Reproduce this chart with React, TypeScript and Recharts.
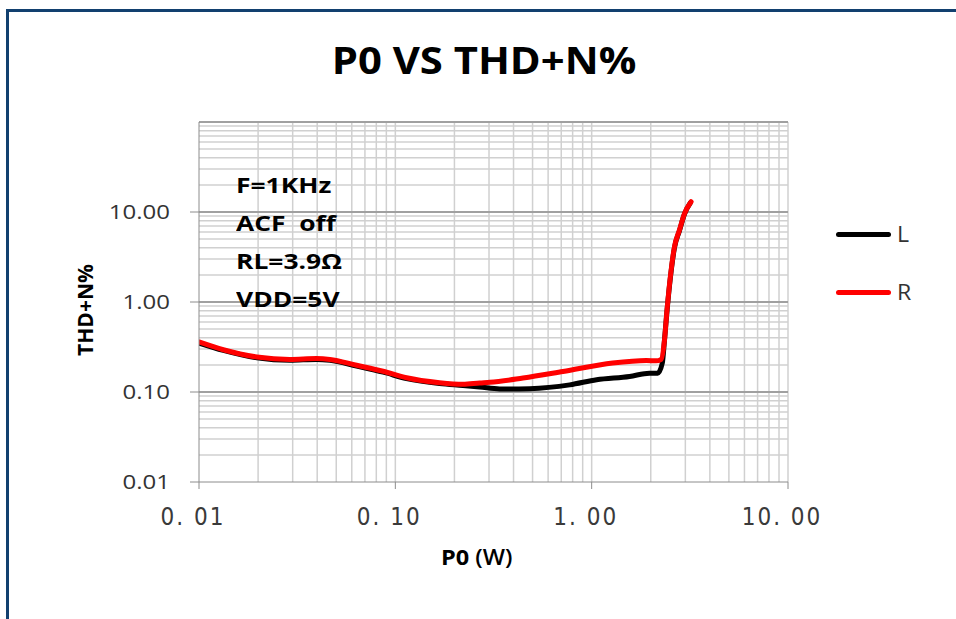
import { LineChart, Line, XAxis, YAxis, ReferenceLine } from "recharts";

// P0 (W) vs THD+N (%) for the two channels
const pL = [0.01, 0.0133, 0.0197, 0.029, 0.0397, 0.0464, 0.0635, 0.0867, 0.114, 0.168, 0.221, 0.269, 0.34, 0.483, 0.773, 1.06, 1.56, 1.97, 2.17, 2.29, 2.35, 2.42, 2.54, 2.64, 2.8, 2.97, 3.18];
const thdL = [0.35, 0.29, 0.24, 0.225, 0.23, 0.225, 0.194, 0.166, 0.141, 0.124, 0.118, 0.1136, 0.108, 0.109, 0.12, 0.137, 0.149, 0.162, 0.162, 0.21, 0.38, 0.8, 2.2, 4.0, 6.2, 9.5, 12.6];

const pR = [0.01, 0.0133, 0.0197, 0.029, 0.0397, 0.0464, 0.0635, 0.0867, 0.114, 0.168, 0.221, 0.269, 0.303, 0.447, 0.714, 1.28, 1.9, 2.13, 2.26, 2.35, 2.42, 2.54, 2.64, 2.8, 2.97, 3.21];
const thdR = [0.36, 0.295, 0.245, 0.23, 0.235, 0.23, 0.198, 0.17, 0.144, 0.127, 0.122, 0.126, 0.128, 0.143, 0.169, 0.21, 0.224, 0.222, 0.231, 0.38, 0.82, 2.27, 4.1, 6.3, 9.6, 13.0];

const seriesNames = ["L", "R"];
const seriesColors = ["#000000", "#ff0000"];

const xTicks = [0.01, 0.1, 1, 10];
const yTicks = [0.01, 0.1, 1, 10];
const yMajor = [0.01, 0.1, 1, 10, 100];
const minorSteps = [2, 3, 4, 5, 6, 7, 8, 9];
const xMinor = [0.01, 0.1, 1].flatMap((d) => minorSteps.map((m) => +(d * m).toPrecision(3)));
const yMinor = [0.01, 0.1, 1, 10].flatMap((d) => minorSteps.map((m) => +(d * m).toPrecision(3)));

const notes = ["F=1KHz", "ACF  off", "RL=3.9\u03A9", "VDD=5V"];

const dataL = pL.map((p, i) => ({ p, thd: thdL[i] }));
const dataR = pR.map((p, i) => ({ p, thd: thdR[i] }));

const AXIS = "#8c8c8c";
const MINOR = "#d0d0d0";
const MAJOR = "#a0a0a0";

function YTick({ x, y, payload }: any) {
  return (
    <text
      transform={`translate(${x},${y}) scale(1.2,1)`}
      textAnchor="end"
      dy="0.36em"
      fontFamily="'Open Sans', sans-serif"
      fontSize={20}
      fill="#333"
    >
      {payload.value.toFixed(2)}
    </text>
  );
}

function XTick({ x, y, payload }: any) {
  return (
    <text
      x={x - 6}
      y={y + 36}
      textAnchor="middle"
      fontFamily="'Liberation Sans Narrow', 'DejaVu Sans Condensed', sans-serif"
      fontSize={24}
      letterSpacing={2}
      fill="#3a3a3a"
    >
      {payload.value.toFixed(2).replace(".", ". ")}
    </text>
  );
}

export default function App() {
  return (
    <div style={{ position: "absolute", left: 0, top: 0, width: 956, height: 619, background: "#fff", overflow: "hidden" }}>
      <div
        style={{
          position: "absolute",
          left: 6,
          top: 9,
          width: 980,
          height: 640,
          borderTop: "3px solid #12406f",
          borderLeft: "3px solid #12406f",
        }}
      />
      <div
        style={{
          position: "absolute",
          left: 484,
          top: 40,
          transform: "translateX(-50%) scaleX(1.1)",
          fontFamily: "'Open Sans', sans-serif",
          fontWeight: 700,
          fontSize: 38,
          lineHeight: "38px",
          whiteSpace: "nowrap",
          color: "#000",
        }}
      >
        P0 VS THD+N%
      </div>

      <LineChart width={956} height={619} margin={{ top: 122, right: 168, bottom: 96, left: 139 }}>
        <XAxis
          type="number"
          dataKey="p"
          scale="log"
          domain={[0.01, 10]}
          ticks={xTicks}
          allowDataOverflow
          height={41}
          tickSize={7}
          tickMargin={0}
          tick={<XTick />}
          stroke={AXIS}
          axisLine={{ stroke: AXIS }}
          tickLine={{ stroke: AXIS }}
        />
        <YAxis
          type="number"
          scale="log"
          domain={[0.01, 100]}
          ticks={yTicks}
          allowDataOverflow
          width={60}
          tickSize={9}
          tickMargin={20}
          tick={<YTick />}
          stroke={AXIS}
          axisLine={{ stroke: AXIS }}
          tickLine={{ stroke: AXIS }}
        />
        {xMinor.map((v) => (
          <ReferenceLine key={"xm" + v} x={v} stroke={MINOR} strokeWidth={1.5} />
        ))}
        {yMinor.map((v) => (
          <ReferenceLine key={"ym" + v} y={v} stroke={MINOR} strokeWidth={1.5} />
        ))}
        {xTicks.slice(1).map((v) => (
          <ReferenceLine key={"xM" + v} x={v} stroke={MINOR} strokeWidth={1.5} />
        ))}
        {yMajor.slice(1).map((v) => (
          <ReferenceLine key={"yM" + v} y={v} stroke={MAJOR} strokeWidth={2} />
        ))}
        <Line
          data={dataL}
          dataKey="thd"
          name={seriesNames[0]}
          type="monotone"
          stroke={seriesColors[0]}
          strokeWidth={5}
          strokeLinecap="round"
          strokeLinejoin="round"
          dot={false}
          activeDot={false}
          isAnimationActive={false}
        />
        <Line
          data={dataR}
          dataKey="thd"
          name={seriesNames[1]}
          type="monotone"
          stroke={seriesColors[1]}
          strokeWidth={5}
          strokeLinecap="round"
          strokeLinejoin="round"
          dot={false}
          activeDot={false}
          isAnimationActive={false}
        />
      </LineChart>

      {/* legend */}
      <div style={{ position: "absolute", left: 836, top: 205 }}>
        {seriesNames.map((name, i) => (
          <div key={name} style={{ display: "flex", alignItems: "center", height: 58 }}>
            <div style={{ width: 55, height: 5, borderRadius: 3, background: seriesColors[i] }} />
            <span
              style={{
                marginLeft: 6,
                fontFamily: "'Open Sans', sans-serif",
                fontSize: 21,
                color: "#333",
                display: "inline-block",
                transform: "scaleX(1.1)",
                transformOrigin: "left center",
              }}
            >
              {name}
            </span>
          </div>
        ))}
      </div>

      <div style={{ position: "absolute", left: 236, top: 165 }}>
        {notes.map((t) => (
          <div
            key={t}
            style={{
              fontFamily: "'Open Sans', sans-serif",
              fontWeight: 700,
              fontSize: 22,
              lineHeight: "38px",
              whiteSpace: "pre",
              transform: "scaleX(1.2)",
              transformOrigin: "left center",
              color: "#000",
            }}
          >
            {t}
          </div>
        ))}
      </div>

      <div
        style={{
          position: "absolute",
          left: 85,
          top: 310,
          transform: "translate(-50%, -50%) rotate(-90deg)",
          fontFamily: "'Open Sans', sans-serif",
          fontWeight: 700,
          fontSize: 21,
          whiteSpace: "nowrap",
          color: "#000",
        }}
      >
        THD+N%
      </div>

      <div
        style={{
          position: "absolute",
          left: 441,
          top: 543,
          transform: "scaleX(1.12)",
          transformOrigin: "left top",
          fontFamily: "'Open Sans', sans-serif",
          fontSize: 21,
          lineHeight: "28px",
          whiteSpace: "pre",
          color: "#000",
        }}
      >
        <b>P0</b> <span style={{ fontWeight: 600 }}>(W)</span>
      </div>
    </div>
  );
}
